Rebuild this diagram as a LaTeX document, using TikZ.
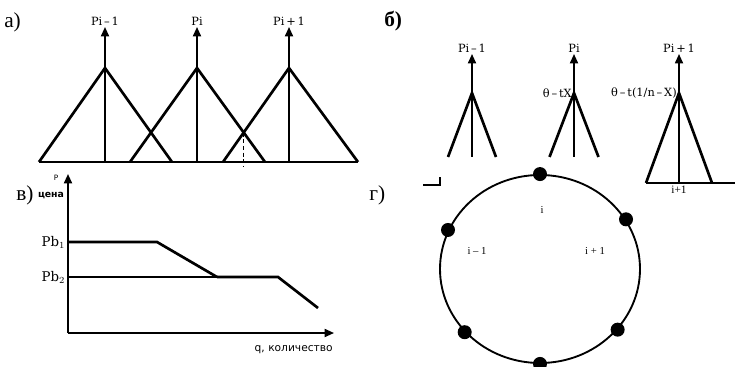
\documentclass[tikz,border=0pt]{standalone}
\usepackage{fontspec}
\setmainfont{Liberation Serif}
\newfontfamily\labfont{DejaVu Serif}
\newfontfamily\axfont{DejaVu Sans}
\usetikzlibrary{arrows.meta,shapes.geometric}

\tikzset{
	leg/.style={line width=2pt},
	stem/.style={line width=1.2pt},
	arr/.style={-{Triangle[length=7pt,width=6pt]},line width=1.3pt},
	lbl/.style={font=\labfont\fontsize{8.5}{9}\selectfont,inner sep=1pt},
	panel/.style={font=\fontsize{16}{17}\selectfont,inner sep=0pt,anchor=west},
	dot/.style={circle,fill,inner sep=0pt,minimum size=10.5pt}
}

\begin{document}
\begin{tikzpicture}[x=0.75pt,y=-0.75pt]
	\useasboundingbox (0,0) rectangle (735,367);

	% a) three overlapping triangles
	\node[panel] (pa) at (4,22) {а)};
	\foreach \n/\l/\a/\r/\t in {1/39/105/172/Pi\,–\,1, 2/130/197/265/Pi, 3/223/289/358/Pi\,+\,1}{
		\coordinate (al\n) at (\l,162);
		\coordinate (aa\n) at (\a,68);
		\coordinate (ar\n) at (\r,162);
		\coordinate (ab\n) at (\a,162);
		\coordinate (at\n) at (\a,27);
		\draw[leg] (al\n) -- (aa\n) -- (ar\n);
		\draw[stem] (ab\n) -- (aa\n);
		\draw[arr] (aa\n) -- (at\n);
		\node[lbl,anchor=south] (ta\n) at (at\n) {\t};
	}
	\draw[leg] (al1) -- (ar3);
	\coordinate (cut) at (intersection of al3--aa3 and aa2--ar2);
	\coordinate (cutb) at (cut |- 0,167);
	\draw[stem,dashed,dash pattern=on 3pt off 2pt] (cut) -- (cutb);

	% b) separate triangles
	\node[panel,font=\bfseries\fontsize{16}{17}\selectfont] (pb) at (384,21) {б)};
	\foreach \n/\a/\w/\h/\t in {1/472/24/157/Pi\,–\,1, 2/574/24.5/157/Pi, 3/679/33/183/Pi\,+\,1}{
		\coordinate (ba\n) at (\a,93);
		\coordinate (bl\n) at (\a-\w,\h);
		\coordinate (br\n) at (\a+\w,\h);
		\coordinate (bb\n) at (\a,\h);
		\coordinate (bt\n) at (\a,54);
		\draw[leg] (bl\n) -- (ba\n) -- (br\n);
		\draw[stem] (bb\n) -- (ba\n);
		\draw[arr] (ba\n) -- (bt\n);
		\node[lbl,anchor=south] (tb\n) at (bt\n) {\t};
	}
	\node[lbl,anchor=east] (th2) at ([xshift=-0.5pt]ba2) {θ\,–\,tX};
	\node[lbl,anchor=east] (th3) at ([xshift=-0.5pt]ba3) {θ\,–\,t(1/n\,–\,X)};
	\coordinate (bend) at (735,183);
	\draw[stem] (bl3) -- (bend);
	\node[lbl,font=\fontsize{8.5}{9}\selectfont,anchor=north] (nb3) at ([yshift=-1pt]bb3) {i+1};
	\coordinate (m1) at (423,185);
	\coordinate (m2) at (440,185);
	\coordinate (m3) at (440,177);
	\draw[stem] (m1) -- (m2) -- (m3);

	% v) price steps
	\node[panel] (pv) at (16,195) {в)};
	\coordinate (o) at (68,333);
	\coordinate (py) at (68,174);
	\coordinate (qx) at (334,333);
	\draw[arr] (o) -- (py);
	\draw[arr] (o) -- (qx);
	\node[font=\axfont\fontsize{5.5}{6}\selectfont,inner sep=0pt] (pp) at (56,178) {P};
	\node[font=\axfont\bfseries\fontsize{7}{8}\selectfont,inner sep=0pt] (pc) at (51,196) {цена};
	\node[font=\axfont\fontsize{8}{9}\selectfont,anchor=north east,inner sep=0pt] (pq) at (333,345) {q, количество};
	\coordinate (s1a) at (68,242);
	\coordinate (s1b) at (157,242);
	\coordinate (s1c) at (217,277);
	\coordinate (s2a) at (68,277);
	\coordinate (s2b) at (278,277);
	\coordinate (s2c) at (318,308);
	\draw[leg] (s1a) -- (s1b) -- (s1c);
	\draw[stem] (s2a) -- (s1c);
	\draw[leg] (s1c) -- (s2b) -- (s2c);
	\node[font=\labfont\fontsize{10}{11}\selectfont,anchor=east,inner sep=2pt] (pb1) at (s1a) {Pb$_1$};
	\node[font=\labfont\fontsize{10}{11}\selectfont,anchor=east,inner sep=2pt] (pb2) at (s2a) {Pb$_2$};

	% g) ring
	\node[panel] (pg) at (369,195) {г)};
	\node[draw,ellipse,line width=1.4pt,minimum width=150pt,minimum height=141pt] (ring) at (540,269) {};
	\foreach \ang in {90,30,157,220,322,270}
		\node[dot] (d\ang) at (ring.\ang) {};
	\node[font=\fontsize{8}{9}\selectfont] (ni) at (542,210) {i};
	\node[font=\fontsize{8}{9}\selectfont] (nim) at (477,251) {i – 1};
	\node[font=\fontsize{8}{9}\selectfont] (nip) at (595,251) {i + 1};
\end{tikzpicture}
\end{document}
